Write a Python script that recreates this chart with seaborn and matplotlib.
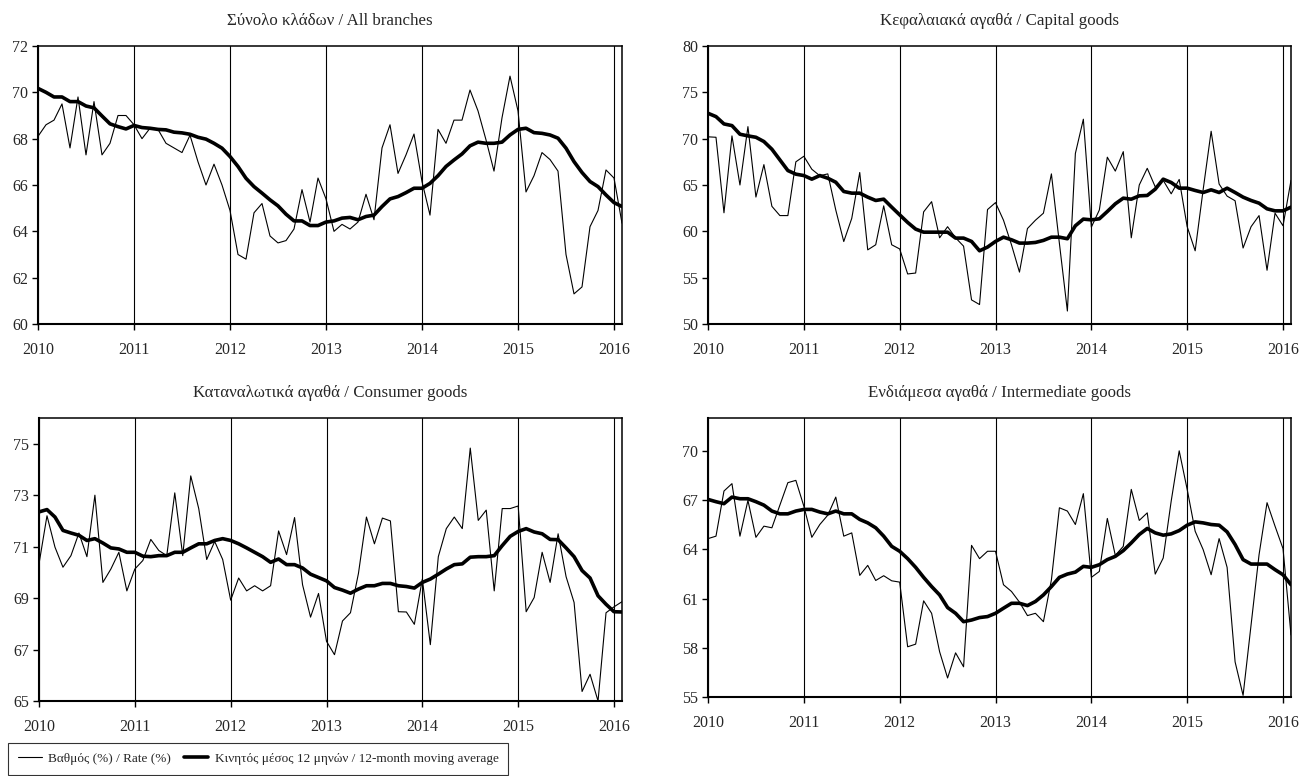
import numpy as np
import pandas as pd
import matplotlib
matplotlib.use("Agg")
import matplotlib.pyplot as plt
import seaborn as sns

# ---------------- data (monthly, Jan 2010 - Feb 2016) ----------------
year_labels = ["2010", "2011", "2012", "2013", "2014", "2015", "2016"]

total_rate = [68.1, 68.6, 68.8, 69.5, 67.6, 69.8, 67.3, 69.6, 67.3, 67.8, 69.0, 69.0,
              68.6, 68.0, 68.45, 68.4, 67.8, 67.6, 67.4, 68.15, 67.0, 66.0, 66.9, 66.0,
              64.9, 63.0, 62.8, 64.8, 65.2, 63.8, 63.5, 63.6, 64.1, 65.8, 64.4, 66.3,
              65.4, 64.0, 64.3, 64.1, 64.4, 65.6, 64.5, 67.6, 68.6, 66.5, 67.3, 68.2,
              66.15, 64.7, 68.4, 67.8, 68.8, 68.8, 70.1, 69.2, 67.95, 66.6, 68.9, 70.7,
              69.2, 65.7, 66.4, 67.4, 67.1, 66.6, 63.0, 61.3, 61.6, 64.2, 64.9, 66.65,
              66.3, 64.35]
total_ma = [70.17, 70.0, 69.8, 69.8, 69.6, 69.6, 69.41, 69.33, 68.98, 68.64, 68.52, 68.42,
            68.57, 68.48, 68.45, 68.4, 68.38, 68.28, 68.25, 68.19, 68.06, 67.98, 67.8, 67.59,
            67.23, 66.8, 66.29, 65.93, 65.65, 65.36, 65.1, 64.74, 64.45, 64.45, 64.25, 64.25,
            64.4, 64.45, 64.57, 64.6, 64.5, 64.64, 64.7, 65.07, 65.4, 65.5, 65.67, 65.86,
            65.86, 66.07, 66.4, 66.8, 67.08, 67.34, 67.69, 67.85, 67.8, 67.8, 67.85, 68.16,
            68.4, 68.45, 68.26, 68.23, 68.16, 68.02, 67.59, 67.01, 66.54, 66.15, 65.93, 65.57,
            65.24, 65.07]

capital_rate = [70.2, 70.15, 62.0, 70.3, 65.0, 71.3, 63.7, 67.2, 62.7, 61.7, 61.7, 67.5,
                68.1, 66.7, 66.0, 66.2, 62.3, 58.9, 61.4, 66.35, 58.0, 58.55, 62.75, 58.55,
                58.1, 55.4, 55.5, 62.1, 63.2, 59.3, 60.5, 59.3, 58.4, 52.6, 52.1, 62.35,
                63.1, 61.2, 58.55, 55.6, 60.3, 61.2, 61.96, 66.2, 58.7, 51.4, 68.4, 72.1,
                60.45, 62.3, 68.0, 66.5, 68.6, 59.3, 65.0, 66.8, 64.8, 65.5, 64.05, 65.6,
                60.5, 57.9, 64.5, 70.8, 65.1, 63.8, 63.3, 58.2, 60.5, 61.7, 55.8, 61.96,
                60.6, 65.5]
capital_ma = [72.74, 72.38, 71.59, 71.41, 70.48, 70.3, 70.15, 69.69, 68.86, 67.71, 66.56, 66.17,
              66.02, 65.63, 66.02, 65.73, 65.3, 64.3, 64.12, 64.12, 63.69, 63.33, 63.47, 62.61,
              61.78, 60.96, 60.24, 59.91, 59.91, 59.91, 59.91, 59.27, 59.27, 58.91, 57.9, 58.3,
              58.91, 59.37, 59.09, 58.73, 58.73, 58.8, 59.02, 59.37, 59.37, 59.2, 60.6, 61.32,
              61.24, 61.35, 62.14, 62.97, 63.58, 63.47, 63.83, 63.87, 64.55, 65.63, 65.27, 64.66,
              64.66, 64.41, 64.19, 64.48, 64.19, 64.66, 64.19, 63.69, 63.33, 63.04, 62.43, 62.21,
              62.21, 62.61]

consumer_rate = [70.33, 72.2, 70.98, 70.2, 70.65, 71.53, 70.61, 73.0, 69.61, 70.13, 70.78, 69.28,
                 70.13, 70.46, 71.28, 70.85, 70.65, 73.09, 70.65, 73.75, 72.48, 70.5, 71.2, 70.5,
                 68.92, 69.78, 69.28, 69.48, 69.28, 69.48, 71.61, 70.69, 72.13, 69.52, 68.26, 69.18,
                 67.32, 66.8, 68.11, 68.43, 69.96, 72.15, 71.11, 72.11, 72.0, 68.47, 68.46, 67.98,
                 69.74, 67.19, 70.61, 71.7, 72.15, 71.7, 74.83, 72.02, 72.42, 69.28, 72.48, 72.48,
                 72.58, 68.47, 69.02, 70.78, 69.61, 71.5, 69.83, 68.83, 65.37, 66.04, 65.0, 68.43,
                 68.66, 68.86]
consumer_ma = [72.35, 72.44, 72.15, 71.63, 71.53, 71.44, 71.24, 71.31, 71.14, 70.95, 70.91, 70.78,
               70.78, 70.63, 70.61, 70.65, 70.65, 70.78, 70.78, 70.95, 71.11, 71.11, 71.24, 71.31,
               71.24, 71.11, 70.95, 70.78, 70.61, 70.39, 70.52, 70.3, 70.3, 70.17, 69.93, 69.8,
               69.67, 69.41, 69.31, 69.19, 69.35, 69.48, 69.48, 69.57, 69.57, 69.48, 69.45, 69.39,
               69.61, 69.74, 69.93, 70.13, 70.3, 70.33, 70.59, 70.61, 70.61, 70.65, 71.04, 71.4,
               71.59, 71.7, 71.57, 71.5, 71.28, 71.27, 70.95, 70.61, 70.07, 69.78, 69.09, 68.76,
               68.47, 68.46]

intermediate_rate = [64.65, 64.8, 67.55, 68.0, 64.8, 66.98, 64.73, 65.41, 65.31, 66.69, 68.06, 68.2,
                     66.63, 64.73, 65.51, 66.08, 67.18, 64.8, 65.0, 62.41, 63.02, 62.1, 62.39, 62.08,
                     62.0, 58.06, 58.22, 60.86, 60.1, 57.76, 56.16, 57.69, 56.84, 64.24, 63.43, 63.88,
                     63.88, 61.84, 61.43, 60.78, 59.96, 60.1, 59.59, 62.14, 66.53, 66.33, 65.51, 67.39,
                     62.29, 62.65, 65.88, 63.63, 64.18, 67.65, 65.76, 66.22, 62.49, 63.47, 66.94, 70.0,
                     67.65, 65.1, 63.98, 62.45, 64.65, 62.9, 57.14, 55.1, 59.39, 63.67, 66.84, 65.41,
                     64.04, 58.78]
intermediate_ma = [67.04, 66.9, 66.78, 67.18, 67.08, 67.08, 66.9, 66.69, 66.33, 66.16, 66.16, 66.33,
                   66.43, 66.43, 66.27, 66.16, 66.33, 66.16, 66.16, 65.82, 65.61, 65.31, 64.8, 64.18,
                   63.88, 63.43, 62.9, 62.29, 61.73, 61.22, 60.45, 60.1, 59.59, 59.69, 59.84, 59.9,
                   60.1, 60.41, 60.71, 60.71, 60.57, 60.82, 61.22, 61.73, 62.29, 62.49, 62.61, 62.96,
                   62.9, 63.06, 63.37, 63.57, 63.92, 64.39, 64.9, 65.27, 65.0, 64.86, 64.94, 65.14,
                   65.47, 65.67, 65.61, 65.51, 65.47, 65.06, 64.29, 63.37, 63.1, 63.1, 63.1, 62.76,
                   62.45, 61.84]

titles = ["Σύνολο κλάδων / All branches", "Κεφαλαιακά αγαθά / Capital goods",
          "Καταναλωτικά αγαθά / Consumer goods", "Ενδιάμεσα αγαθά / Intermediate goods"]
rate_label = "Βαθμός (%) / Rate (%)"
ma_label = "Κινητός μέσος 12 μηνών / 12-month moving average"

# ---------------- style ----------------
sns.set_style("white")
plt.rcParams["font.family"] = ["Liberation Serif", "DejaVu Serif"]

fig = plt.figure(figsize=(13, 7.76), dpi=100)
W, H = 1300, 776

def px_axes(l, r, t, b):
    return fig.add_axes([l / W, 1 - b / H, (r - l) / W, (b - t) / H])

boxes = [(38, 622, 46, 324), (708, 1291, 46, 324), (39, 622, 418, 701), (708, 1291, 418, 697)]
ylims = [(60, 72), (50, 80), (65, 76), (55, 72)]
yticks = [np.arange(60, 73, 2), np.arange(50, 81, 5), np.arange(65, 76, 2), np.arange(55, 71, 3)]
series = [(total_rate, total_ma), (capital_rate, capital_ma),
          (consumer_rate, consumer_ma), (intermediate_rate, intermediate_ma)]

n = len(total_rate)
month_idx = np.arange(n)
year_pos = np.arange(0, 12 * len(year_labels), 12)

axes = []
for box, yl, yt, (rate, ma), title in zip(boxes, ylims, yticks, series, titles):
    ax = px_axes(*box)
    df = pd.DataFrame({"m": month_idx, "rate": rate, "ma": ma})
    sns.lineplot(data=df, x="m", y="rate", ax=ax, color="black", linewidth=0.8, label=rate_label)
    sns.lineplot(data=df, x="m", y="ma", ax=ax, color="black", linewidth=2.6, label=ma_label)
    ax.set_xlim(0, n - 1)
    ax.set_ylim(*yl)
    ax.set_yticks(yt)
    ax.set_yticklabels([str(v) for v in yt])
    ax.set_xticks(year_pos)
    ax.set_xticklabels(year_labels)
    ax.set_xlabel("")
    ax.set_ylabel("")
    ax.grid(axis="x", color="black", linewidth=0.8)
    ax.grid(axis="y", visible=False)
    ax.tick_params(axis="both", direction="out", length=4, width=1, color="black",
                   labelsize=11.5, pad=3)
    ax.tick_params(axis="x", pad=9)
    ax.tick_params(left=True, bottom=True)
    for s in ax.spines.values():
        s.set_visible(True)
        s.set_color("black")
        s.set_linewidth(1.1)
    ax.spines["left"].set_linewidth(1.5)
    ax.spines["bottom"].set_linewidth(1.5)
    ax.set_title(title, fontsize=12.2, pad=15)
    ax.get_legend().remove()
    axes.append(ax)

handles, labels = axes[0].get_legend_handles_labels()
leg = fig.legend(handles, labels, loc="lower left", bbox_to_anchor=(8 / W, 1 / H),
                 ncol=2, frameon=True, fontsize=9.5, handlelength=1.8, columnspacing=1.0,
                 handletextpad=0.5, borderpad=0.75, borderaxespad=0.0, fancybox=False)
leg.get_frame().set_edgecolor("black")
leg.get_frame().set_linewidth(0.8)

fig.savefig("out.png", dpi=100)
